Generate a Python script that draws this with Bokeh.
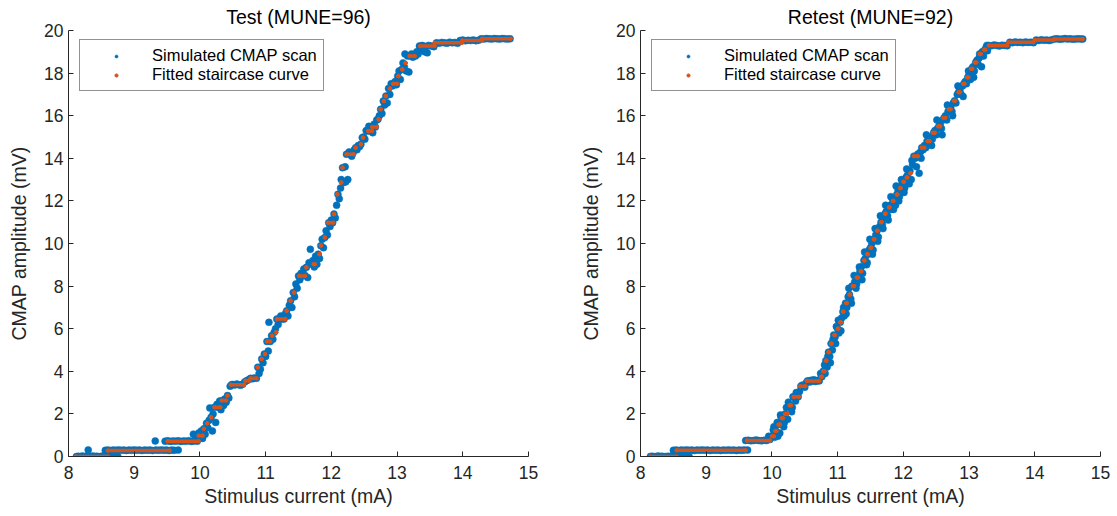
from bokeh.plotting import figure
from bokeh.layouts import row
from bokeh.models import Range1d, FixedTicker, Legend, LegendItem
from bokeh.embed import file_html
from bokeh.resources import INLINE

BLUE = "#0072BD"
ORANGE = "#D95319"
AX = "#262626"
FONT = "Liberation Sans"

x_ticks = [8, 9, 10, 11, 12, 13, 14, 15]
y_ticks = [0, 2, 4, 6, 8, 10, 12, 14, 16, 18, 20]

# ---------------- Test scan (left) ----------------
test_scan_x = [
    8.12, 8.15, 8.18, 8.21, 8.24, 8.27, 8.30, 8.31, 8.34, 8.37, 8.40, 8.43, 8.46, 8.49, 8.52, 8.55, 8.58, 8.61, 8.64, 8.67, 8.71, 8.75,
    8.56, 8.60, 8.64, 8.68, 8.72, 8.76, 8.80, 8.84, 8.88, 8.92, 8.96, 9.00, 9.04, 9.08, 9.12, 9.16, 9.20, 9.24, 9.28, 9.32, 9.33, 9.37, 9.41, 9.45, 9.49, 9.53, 9.57, 9.61, 9.67,
    9.47, 9.51, 9.55, 9.59, 9.63, 9.67, 9.71, 9.75, 9.79, 9.83, 9.87, 9.90, 9.91, 9.94, 9.96, 9.98,
    10.00, 10.02, 10.04, 10.06, 10.08, 10.10, 10.12, 10.14, 10.15, 10.17, 10.19, 10.20, 10.22, 10.24, 10.26, 10.28, 10.30, 10.32, 10.34, 10.36, 10.38, 10.40, 10.42, 10.44, 10.46, 10.48,
    10.50, 10.53, 10.56, 10.59, 10.62, 10.65, 10.68, 10.71, 10.74, 10.77, 10.80, 10.83, 10.86, 10.88, 10.90, 10.92, 10.94, 10.96, 10.98, 11.00, 11.02, 11.04, 11.05, 11.07, 11.09,
    11.11, 11.13, 11.15, 11.17, 11.19, 11.21, 11.23, 11.25, 11.28, 11.30, 11.32, 11.34, 11.36, 11.38, 11.40, 11.42, 11.44, 11.46, 11.48, 11.50, 11.52, 11.54, 11.56, 11.58, 11.60,
    11.62, 11.64, 11.66, 11.68, 11.70, 11.72, 11.74, 11.76, 11.78, 11.80, 11.82, 11.84, 11.86, 11.88, 11.90, 11.92, 11.94, 11.96, 11.98, 12.00, 12.02, 12.04, 12.06, 12.08, 12.10,
    12.12, 12.14, 12.15, 12.17, 12.19, 12.21, 12.22, 12.23, 12.25, 12.27, 12.29, 12.31, 12.33, 12.35, 12.37, 12.39, 12.41, 12.43, 12.45, 12.47, 12.49, 12.51, 12.53, 12.55, 12.57,
    12.59, 12.61, 12.63, 12.65, 12.67, 12.69, 12.71, 12.73, 12.75, 12.77, 12.79, 12.81, 12.83, 12.85, 12.87, 12.89, 12.91, 12.93, 12.95, 12.97, 12.99, 13.01, 13.03, 13.05, 13.07,
    13.09, 13.11, 13.12, 13.14, 13.16, 13.18, 13.20, 13.22, 13.24, 13.26, 13.28, 13.30, 13.32, 13.34, 13.36, 13.38, 13.42, 13.46,
    13.40, 13.44, 13.48, 13.52, 13.56, 13.60, 13.64, 13.68, 13.72, 13.76, 13.80, 13.84, 13.88, 13.92, 13.96, 14.00, 14.04, 14.08, 14.12, 14.16, 14.20, 14.24, 14.28, 14.32,
    14.36, 14.40, 14.44, 14.48, 14.52, 14.56, 14.60, 14.64, 14.68, 14.72,
]
test_scan_y = [
    0.00, 0.01, -0.01, 0.02, 0.00, 0.01, 0.31, 0.00, -0.01, 0.02, 0.00, 0.01, -0.01, 0.00, 0.02, 0.00, 0.01, 0.00, -0.01, 0.01, 0.00, 0.00,
    0.29, 0.30, 0.28, 0.30, 0.29, 0.31, 0.29, 0.30, 0.28, 0.30, 0.29, 0.31, 0.29, 0.30, 0.28, 0.30, 0.29, 0.30, 0.28, 0.73, 0.30, 0.29, 0.31, 0.29, 0.30, 0.28, 0.30, 0.29, 0.30,
    0.72, 0.74, 0.71, 0.73, 0.72, 0.74, 0.71, 0.73, 0.72, 0.74, 0.71, 1.05, 0.73, 0.90, 0.72, 1.10,
    0.98, 1.20, 0.85, 1.30, 1.05, 1.56, 1.35, 1.70, 2.28, 1.84, 1.20, 2.00, 2.31, 1.60, 2.45, 2.31, 2.60, 2.20, 2.63, 2.40, 2.70, 2.55, 2.86, 2.75, 3.30, 3.37,
    3.38, 3.36, 3.40, 3.37, 3.35, 3.39, 3.50, 3.56, 3.60, 3.67, 3.65, 3.69, 3.67, 4.19, 3.90, 4.10, 4.58, 4.40, 4.81, 4.70, 5.40, 4.95, 6.30, 5.40, 5.67,
    5.50, 5.83, 6.00, 6.45, 6.20, 6.45, 6.60, 6.45, 6.45, 6.70, 6.84, 6.60, 7.10, 7.31, 7.00, 7.70, 7.50, 8.10, 7.90, 8.48, 8.30, 8.60, 8.48, 8.80, 8.50,
    8.88, 8.40, 9.10, 9.73, 9.03, 9.20, 8.90, 9.40, 9.03, 9.50, 9.30, 9.90, 10.20, 9.80, 10.28, 10.60, 10.40, 10.98, 10.80, 11.10, 10.98, 11.38, 11.20, 11.80, 12.31,
    12.10, 12.60, 13.00, 13.56, 12.86, 13.60, 12.90, 14.19, 13.00, 14.30, 14.19, 14.10, 14.25, 14.40, 14.50, 14.40, 14.60, 14.55, 14.66, 14.97, 15.00, 14.90, 15.30, 15.28, 15.50,
    15.28, 15.47, 15.20, 15.60, 15.47, 15.80, 15.83, 16.00, 16.30, 16.10, 16.69, 16.50, 16.92, 16.60, 17.28, 17.00, 17.50, 17.40, 17.50, 17.60, 17.45, 17.86, 18.10, 17.70, 18.17,
    18.48, 18.30, 18.90, 18.10, 18.80, 18.05, 18.80, 18.90, 18.75, 18.85, 18.80, 19.00, 18.90, 19.27, 19.10, 19.30, 19.00, 18.95,
    19.27, 19.25, 19.30, 19.27, 19.24, 19.42, 19.40, 19.44, 19.42, 19.40, 19.45, 19.42, 19.44, 19.40, 19.53, 19.55, 19.52, 19.54, 19.53, 19.55, 19.52, 19.54, 19.61, 19.60,
    19.62, 19.61, 19.60, 19.62, 19.61, 19.60, 19.62, 19.61, 19.60, 19.61,
]
test_step_x0 = [8.11, 8.60, 9.51, 9.98, 10.06, 10.11, 10.17, 10.22, 10.33, 10.42, 10.47, 10.69, 10.77, 10.88, 10.94, 10.99, 11.02, 11.10, 11.16, 11.17,
                11.32, 11.38, 11.43, 11.51, 11.62, 11.73, 11.82, 11.84, 11.90, 11.95, 12.04, 12.09, 12.15, 12.17, 12.23, 12.37, 12.45, 12.48, 12.56, 12.62,
                12.72, 12.75, 12.80, 12.83, 12.89, 12.94, 13.02, 13.08, 13.13, 13.19, 13.35, 13.57, 13.99, 14.29]
test_step_x1 = [8.60, 9.54, 9.98, 10.04, 10.06, 10.11, 10.17, 10.31, 10.40, 10.42, 10.67, 10.75, 10.86, 10.88, 10.94, 10.99, 11.07, 11.10, 11.16, 11.30,
                11.32, 11.38, 11.43, 11.60, 11.62, 11.75, 11.82, 11.84, 11.90, 12.03, 12.04, 12.09, 12.15, 12.17, 12.34, 12.37, 12.45, 12.48, 12.62, 12.69,
                12.72, 12.75, 12.80, 12.83, 12.89, 13.00, 13.02, 13.08, 13.13, 13.27, 13.57, 13.99, 14.29, 14.73]
test_step_y = [0.00, 0.28, 0.72, 0.98, 1.30, 1.56, 1.84, 2.31, 2.63, 2.86, 3.37, 3.56, 3.67, 4.19, 4.58, 4.81, 5.40, 5.67, 5.83, 6.45,
               6.84, 7.31, 7.70, 8.48, 8.88, 9.03, 9.50, 9.90, 10.28, 10.98, 11.38, 12.31, 12.86, 13.56, 14.19, 14.50, 14.66, 14.97, 15.28, 15.47,
               15.83, 16.30, 16.69, 16.92, 17.28, 17.50, 17.86, 18.17, 18.48, 18.80, 19.27, 19.42, 19.53, 19.61]

# ---------------- Retest scan (right) ----------------
retest_scan_x = [
    8.15, 8.18, 8.21, 8.24, 8.27, 8.30, 8.33, 8.36, 8.39, 8.42, 8.45, 8.48, 8.51, 8.54, 8.57, 8.60, 8.64, 8.68, 8.74,
    8.50, 8.54, 8.58, 8.62, 8.66, 8.70, 8.74, 8.78, 8.82, 8.86, 8.90, 8.94, 8.98, 9.02, 9.06, 9.10, 9.14, 9.18, 9.22, 9.26, 9.30, 9.34, 9.38, 9.42, 9.46, 9.50, 9.54, 9.58, 9.63,
    9.60, 9.64, 9.68, 9.72, 9.76, 9.80, 9.84, 9.88, 9.92, 9.95, 9.97,
    10.00, 10.02, 10.04, 10.06, 10.08, 10.10, 10.12, 10.14, 10.16, 10.18, 10.20, 10.22, 10.24, 10.26, 10.28, 10.30, 10.32, 10.34, 10.36, 10.38,
    10.40, 10.42, 10.44, 10.46, 10.48, 10.50, 10.52, 10.54, 10.56, 10.58, 10.60, 10.62, 10.64, 10.66, 10.68, 10.70, 10.72, 10.74, 10.76, 10.78,
    10.80, 10.82, 10.84, 10.86, 10.88, 10.90, 10.92, 10.94, 10.96, 10.98, 11.00, 11.02, 11.04, 11.06, 11.08, 11.10, 11.12, 11.14, 11.16, 11.18,
    11.20, 11.22, 11.24, 11.26, 11.28, 11.30, 11.32, 11.34, 11.36, 11.38, 11.40, 11.42, 11.44, 11.46, 11.48, 11.50, 11.52, 11.54, 11.56, 11.58,
    11.60, 11.62, 11.64, 11.66, 11.68, 11.70, 11.72, 11.74, 11.76, 11.78, 11.80, 11.82, 11.84, 11.86, 11.88, 11.90, 11.92, 11.94, 11.96, 11.98,
    12.00, 12.02, 12.04, 12.06, 12.08, 12.10, 12.12, 12.14, 12.16, 12.18, 12.20, 12.22, 12.24, 12.26, 12.28, 12.30, 12.32, 12.34, 12.36, 12.38,
    12.40, 12.42, 12.44, 12.46, 12.48, 12.50, 12.52, 12.54, 12.56, 12.58, 12.60, 12.62, 12.64, 12.66, 12.68, 12.70, 12.72, 12.74, 12.76, 12.78,
    12.80, 12.82, 12.84, 12.86, 12.88, 12.90, 12.92, 12.94, 12.96, 12.98, 13.00, 13.02, 13.04, 13.06, 13.08, 13.10, 13.12, 13.14, 13.16, 13.18,
    13.20, 13.22, 13.24, 13.26, 13.28,
    13.30, 13.34, 13.38, 13.42, 13.46, 13.50, 13.54, 13.58, 13.62, 13.66, 13.70, 13.74, 13.78, 13.82, 13.86, 13.90, 13.94, 13.98, 14.02, 14.06, 14.10, 14.14, 14.18, 14.22,
    14.26, 14.30, 14.34, 14.38, 14.42, 14.46, 14.50, 14.54, 14.58, 14.62, 14.66, 14.70, 14.73,
    10.03, 10.09, 10.13, 10.19, 10.25, 10.31, 10.37,
    10.81, 10.85, 10.89, 10.93, 10.97, 11.01, 11.05, 11.09, 11.13, 11.17, 11.21, 11.25, 11.29, 11.33, 11.37, 11.41, 11.45, 11.49, 11.53, 11.57,
    11.61, 11.65, 11.69, 11.73, 11.77, 11.81, 11.85, 11.89, 11.93, 11.97, 12.01, 12.05, 12.09, 12.13, 12.27, 12.35, 12.43, 12.51, 12.59, 12.67,
    12.75, 12.83, 12.91, 12.99, 13.07, 13.15, 13.19, 13.27,
]
retest_scan_y = [
    0.00, 0.01, -0.01, 0.00, 0.02, 0.00, 0.01, -0.01, 0.00, 0.01, 0.00, 0.02, 0.00, -0.01, 0.01, 0.00, 0.01, 0.00, 0.00,
    0.29, 0.30, 0.28, 0.30, 0.29, 0.31, 0.29, 0.30, 0.28, 0.30, 0.29, 0.31, 0.29, 0.30, 0.28, 0.30, 0.29, 0.30, 0.28, 0.30, 0.29, 0.31, 0.29, 0.30, 0.28, 0.30, 0.29, 0.31, 0.30,
    0.75, 0.76, 0.74, 0.75, 0.77, 0.75, 0.74, 0.76, 0.75, 0.95, 0.80,
    0.95, 1.25, 0.90, 1.20, 1.60, 1.50, 1.10, 1.85, 1.80, 1.40, 2.00, 2.30, 1.75, 2.40, 2.40, 2.10, 2.80, 2.80, 2.60, 2.85,
    2.80, 3.05, 3.30, 3.35, 3.30, 3.25, 3.45, 3.55, 3.55, 3.50, 3.58, 3.55, 3.60, 3.52, 3.55, 3.58, 3.55, 3.90, 3.75, 4.00,
    4.30, 4.50, 4.20, 4.90, 4.70, 5.30, 5.00, 5.70, 5.60, 6.10, 6.00, 5.80, 6.30, 6.50, 6.80, 6.60, 7.20, 7.00, 7.50, 7.60,
    7.40, 8.00, 8.00, 8.20, 7.90, 8.40, 8.50, 8.70, 8.90, 8.60, 9.20, 9.30, 9.00, 9.50, 9.70, 9.80, 10.00, 9.70, 10.20, 10.40,
    10.60, 10.30, 10.80, 11.00, 10.90, 11.20, 11.40, 11.50, 11.30, 11.70, 11.80, 11.60, 12.00, 12.10, 11.80, 12.30, 12.50, 12.20, 12.60, 12.80,
    12.90, 12.60, 13.10, 13.20, 12.90, 13.40, 13.00, 13.70, 14.10, 14.00, 13.60, 14.20, 13.30, 14.30, 14.50, 14.40, 14.60, 14.50, 14.80, 14.80,
    14.70, 15.00, 14.90, 15.20, 15.30, 15.10, 15.40, 15.50, 15.60, 15.40, 15.80, 15.90, 16.00, 15.80, 16.20, 16.30, 16.40, 16.20, 16.60, 16.70,
    16.60, 17.00, 17.10, 17.20, 17.00, 17.40, 17.50, 17.60, 17.50, 17.80, 17.90, 17.70, 18.20, 18.30, 18.10, 18.50, 18.60, 18.40, 18.90, 18.80,
    19.00, 18.80, 19.10, 19.20, 19.05,
    19.30, 19.28, 19.32, 19.30, 19.27, 19.31, 19.30, 19.28, 19.45, 19.43, 19.46, 19.44, 19.45, 19.43, 19.46, 19.44, 19.45, 19.43, 19.55, 19.53, 19.56, 19.54, 19.55, 19.53,
    19.56, 19.60, 19.61, 19.59, 19.60, 19.62, 19.60, 19.61, 19.59, 19.60, 19.61, 19.60, 19.60,
    1.40, 0.95, 1.95, 1.60, 2.55, 2.30, 3.00,
    3.90, 4.70, 4.40, 5.50, 5.30, 6.40, 5.90, 7.00, 6.70, 7.90, 7.20, 8.50, 8.10, 8.90, 8.30, 9.60, 9.10, 10.20, 9.50, 10.70,
    10.10, 11.30, 10.70, 11.80, 11.10, 12.20, 11.60, 12.70, 12.00, 13.00, 12.40, 13.50, 12.80, 13.90, 14.00, 15.10, 14.60, 15.80, 15.10, 16.50,
    16.00, 17.40, 16.90, 18.10, 17.80, 18.70, 18.30, 19.30,
]
retest_step_x0 = [8.15, 8.55, 9.62, 10.00, 10.05, 10.10, 10.15, 10.20, 10.27, 10.33, 10.43, 10.53, 10.75, 10.78, 10.82, 10.86, 10.90, 10.95, 11.00, 11.04,
                  11.08, 11.13, 11.18, 11.23, 11.29, 11.35, 11.40, 11.45, 11.50, 11.55, 11.60, 11.66, 11.72, 11.78, 11.84, 11.90, 11.95, 12.00, 12.05, 12.11,
                  12.16, 12.28, 12.37, 12.45, 12.53, 12.61, 12.69, 12.77, 12.84, 12.91, 12.97, 13.03, 13.09, 13.16, 13.23, 13.30, 13.60, 14.00, 14.30]
retest_step_x1 = [8.55, 9.60, 9.97, 10.03, 10.07, 10.12, 10.17, 10.24, 10.29, 10.41, 10.51, 10.72, 10.76, 10.80, 10.83, 10.87, 10.91, 10.96, 11.01, 11.05,
                  11.09, 11.14, 11.19, 11.25, 11.31, 11.36, 11.41, 11.46, 11.51, 11.56, 11.61, 11.67, 11.73, 11.79, 11.85, 11.91, 11.96, 12.01, 12.06, 12.11,
                  12.22, 12.32, 12.40, 12.48, 12.56, 12.64, 12.72, 12.79, 12.86, 12.93, 12.99, 13.05, 13.11, 13.18, 13.25, 13.58, 13.98, 14.28, 14.73]
retest_step_y = [0.00, 0.29, 0.75, 0.95, 1.20, 1.50, 1.80, 2.00, 2.40, 2.80, 3.30, 3.55, 3.75, 4.00, 4.50, 4.90, 5.30, 5.70, 6.00, 6.30,
                 6.80, 7.20, 7.60, 8.00, 8.40, 8.70, 9.20, 9.50, 9.80, 10.20, 10.60, 11.00, 11.40, 11.70, 12.00, 12.30, 12.60, 12.90, 13.10, 13.30,
                 14.10, 14.50, 14.80, 15.20, 15.50, 15.90, 16.30, 16.70, 17.10, 17.50, 17.80, 18.20, 18.50, 18.90, 19.10, 19.30, 19.45, 19.55, 19.60]


def make_panel(title, sx, sy, x0, x1, sty, width, left, right):
    p = figure(width=width, height=514, x_range=Range1d(8, 15), y_range=Range1d(0, 20),
               output_backend="svg", toolbar_location=None,
               min_border_left=left, min_border_right=right, min_border_top=29, min_border_bottom=58)
    p.outline_line_color = None
    p.grid.visible = False
    p.background_fill_color = "white"
    p.border_fill_color = "white"

    p.title.text = title
    p.title.align = "center"
    p.title.text_font = FONT
    p.title.text_font_size = "19.5px"
    p.title.text_font_style = "normal"
    p.title.text_color = "black"
    p.title.standoff = 6
    p.title.offset = 0

    r_scan = p.scatter(sx, sy, size=7, fill_color=BLUE, line_color=BLUE, line_width=0.5)
    p.segment(x0=x0, y0=sty, x1=x1, y1=sty, line_color=ORANGE, line_width=3.5, line_cap="round")
    r_fit = p.scatter(x=x0 + x1, y=sty + sty, size=3.5, fill_color=ORANGE, line_color=ORANGE)

    for ax in (p.xaxis[0], p.yaxis[0]):
        ax.axis_line_color = AX
        ax.axis_line_width = 1
        ax.major_tick_line_color = AX
        ax.major_tick_in = 5
        ax.major_tick_out = 0
        ax.minor_tick_line_color = None
        ax.major_label_text_font = FONT
        ax.major_label_text_font_size = "17.5px"
        ax.major_label_text_color = AX
        ax.axis_label_text_font = FONT
        ax.axis_label_text_font_size = "19.5px"
        ax.axis_label_text_font_style = "normal"
        ax.axis_label_text_color = AX
    p.xaxis.ticker = FixedTicker(ticks=x_ticks)
    p.yaxis.ticker = FixedTicker(ticks=y_ticks)
    p.xaxis.axis_label = "Stimulus current (mA)"
    p.yaxis.axis_label = "CMAP amplitude (mV)"
    p.xaxis.major_label_standoff = 9
    p.xaxis.axis_label_standoff = 3
    p.yaxis.major_label_standoff = 5
    p.yaxis.axis_label_standoff = 11

    legend = Legend(items=[LegendItem(label="Simulated CMAP scan", renderers=[r_scan]),
                           LegendItem(label="Fitted staircase curve", renderers=[r_fit])],
                    location=(11, 365))
    legend.label_text_font = FONT
    legend.label_text_font_size = "16.5px"
    legend.label_text_color = "black"
    legend.border_line_color = AX
    legend.border_line_width = 1
    legend.background_fill_color = "white"
    legend.background_fill_alpha = 1
    legend.padding = 6
    legend.spacing = 0
    legend.margin = 0
    legend.glyph_width = 60
    legend.glyph_height = 8
    legend.label_height = 18
    legend.label_standoff = 6
    p.add_layout(legend, "center")
    return p


left = make_panel("Test (MUNE=96)", test_scan_x, test_scan_y, test_step_x0, test_step_x1, test_step_y, 568, 68, 40)
right = make_panel("Retest (MUNE=92)", retest_scan_x, retest_scan_y, retest_step_x0, retest_step_x1, retest_step_y, 546, 72, 14)

layout = row(left, right)
open("out.html", "w").write(file_html(layout, INLINE))
